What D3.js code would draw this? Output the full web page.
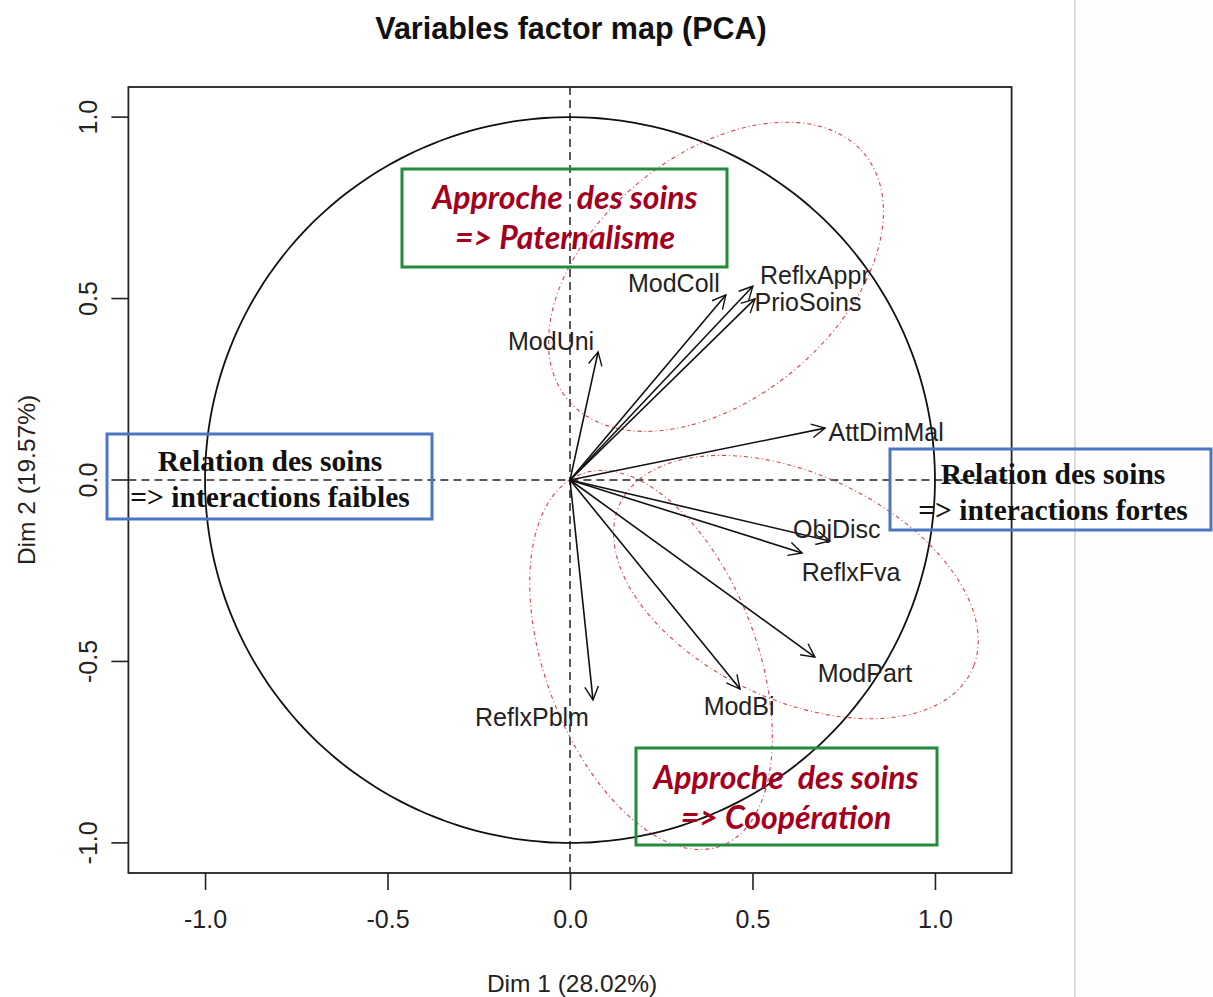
<!DOCTYPE html>
<html><head><meta charset="utf-8">
<script src="https://cdn.jsdelivr.net/npm/d3@7"></script>
<style>
html,body{margin:0;padding:0;background:#fff;}
svg{display:block;}
</style></head>
<body>
<svg id="chart" width="1213" height="997"></svg>
<script>
// ---- data ----
const variables = ["ModUni","ModColl","ReflxAppr","PrioSoins","AttDimMal","ObjDisc","ReflxFva","ModPart","ModBi","ReflxPblm"];
const dim1 = [0.077, 0.427, 0.501, 0.507, 0.699, 0.712, 0.636, 0.671, 0.466, 0.063];
const dim2 = [0.353, 0.510, 0.534, 0.499, 0.143, -0.168, -0.201, -0.488, -0.576, -0.606];
const xTicks = [-1.0, -0.5, 0.0, 0.5, 1.0];
const yTicks = [-1.0, -0.5, 0.0, 0.5, 1.0];
const title = "Variables factor map (PCA)";
const xTitle = "Dim 1 (28.02%)";
const yTitle = "Dim 2 (19.57%)";
// concentration ellipses: centre, semi-axes, rotation (deg)
const ellipseCx = [0.400, 0.222, 0.619];
const ellipseCy = [0.560, -0.496, -0.295];
const ellipseA = [0.529, 0.547, 0.534];
const ellipseB = [0.335, 0.290, 0.310];
const ellipseAngle = [40, -69.5, -25.7];
// annotation texts
const annotGreenTop = ["Approche  des soins", "=> Paternalisme"];
const annotGreenBottom = ["Approche  des soins", "=> Coopération"];
const annotBlueLeft = ["Relation des soins", "=> interactions faibles"];
const annotBlueRight = ["Relation des soins", "=> interactions fortes"];

// ---- layout ----
const labelOffsets = [[-47,-11],[-52,-12],[62,-11],[53,3],[61,4],[7,-12],[49,19],[50,16],[-1,17],[-61,17]];

const svg = d3.select("#chart");
const x = d3.scaleLinear().domain([-1.21, 1.21]).range([128.4, 1011.6]);
const y = d3.scaleLinear().domain([-1.083, 1.083]).range([873, 87]);
const fmt = d => d3.format(".1f")(d).replace("\u2212", "-");
const sans = "Liberation Sans, Arial, sans-serif";

// separator line on the right (screenshot edge)
svg.append("rect").attr("x",1076).attr("y",0).attr("width",137).attr("height",997).attr("fill","#fdfdfd");
svg.append("line").attr("x1",1075).attr("x2",1075).attr("y1",0).attr("y2",997)
  .attr("stroke","#dcdcdc").attr("stroke-width",2);

// title
svg.append("text").attr("x", 571).attr("y", 39).attr("text-anchor","middle")
  .attr("font-family",sans).attr("font-weight","bold")
  .attr("font-size",30.5).attr("fill","#111").text(title);

// plot box
svg.append("rect").attr("x", x(-1.21)).attr("y", y(1.083))
  .attr("width", x(1.21)-x(-1.21)).attr("height", y(-1.083)-y(1.083))
  .attr("fill","none").attr("stroke","#222").attr("stroke-width",1.8);

// axes
const xAxis = d3.axisBottom(x).tickValues(xTicks).tickFormat(fmt).tickSize(17).tickPadding(20);
const gx = svg.append("g").attr("transform",`translate(0,${y(-1.083)})`).call(xAxis);
gx.select(".domain").remove();
gx.selectAll("line").attr("stroke","#222").attr("stroke-width",1.6);
gx.selectAll("text").attr("font-family",sans).attr("font-size",25).attr("fill","#222");

const yAxis = d3.axisLeft(y).tickValues(yTicks).tickFormat(fmt).tickSize(17).tickPadding(0);
const gy = svg.append("g").attr("transform",`translate(${x(-1.21)},0)`).call(yAxis);
gy.select(".domain").remove();
gy.selectAll("line").attr("stroke","#222").attr("stroke-width",1.6);
gy.selectAll("text").attr("font-family",sans).attr("font-size",25).attr("fill","#222")
  .attr("text-anchor","middle").attr("x",0).attr("dy",0).attr("y",0)
  .attr("transform", d => `translate(-31,${y(d)}) rotate(-90)`);
gy.selectAll(".tick").attr("transform", null);
gy.selectAll(".tick line").attr("y1", d=>y(d)).attr("y2", d=>y(d));

svg.append("text").attr("x",572).attr("y",992).attr("text-anchor","middle")
  .attr("font-family",sans).attr("font-size",24.5).attr("fill","#222").text(xTitle);
svg.append("text").attr("transform",`translate(35,${y(0)}) rotate(-90)`).attr("text-anchor","middle")
  .attr("font-family",sans).attr("font-size",24.5).attr("fill","#222").text(yTitle);

// dashed reference lines
svg.append("line").attr("x1",x(0)).attr("x2",x(0)).attr("y1",y(1.083)).attr("y2",y(-1.083))
  .attr("stroke","#222").attr("stroke-width",1.5).attr("stroke-dasharray","8,5");
svg.append("line").attr("x1",x(-1.21)).attr("x2",x(1.21)).attr("y1",y(0)).attr("y2",y(0))
  .attr("stroke","#222").attr("stroke-width",1.5).attr("stroke-dasharray","8,5");

// correlation circle
const circ = d3.range(0, 360, 2).map(t => [Math.cos(t*Math.PI/180), Math.sin(t*Math.PI/180)]);
const line = d3.line().x(d=>x(d[0])).y(d=>y(d[1])).curve(d3.curveCardinalClosed);
svg.append("path").attr("d", line(circ)).attr("fill","none").attr("stroke","#111").attr("stroke-width",1.8);

// ellipses
ellipseCx.forEach((cx,i)=>{
  const th = ellipseAngle[i]*Math.PI/180;
  const pts = d3.range(0,360,3).map(t=>{
    const r = t*Math.PI/180;
    const ex = ellipseA[i]*Math.cos(r), ey = ellipseB[i]*Math.sin(r);
    return [cx + ex*Math.cos(th) - ey*Math.sin(th), ellipseCy[i] + ex*Math.sin(th) + ey*Math.cos(th)];
  });
  svg.append("path").attr("d", line(pts)).attr("fill","none").attr("stroke","#d8404a")
    .attr("stroke-width",1.1).attr("stroke-dasharray","4,3,1,3");
});

// arrows
const ah = 15, ang = 27*Math.PI/180;
variables.forEach((v,i)=>{
  const x0 = x(0), y0 = y(0), x1 = x(dim1[i]), y1 = y(dim2[i]);
  svg.append("line").attr("x1",x0).attr("y1",y0).attr("x2",x1).attr("y2",y1)
    .attr("stroke","#111").attr("stroke-width",1.6);
  const a = Math.atan2(y1-y0, x1-x0);
  const p1 = [x1 - ah*Math.cos(a-ang), y1 - ah*Math.sin(a-ang)];
  const p2 = [x1 - ah*Math.cos(a+ang), y1 - ah*Math.sin(a+ang)];
  svg.append("path").attr("d",`M${p1[0]},${p1[1]}L${x1},${y1}L${p2[0]},${p2[1]}`)
    .attr("fill","none").attr("stroke","#111").attr("stroke-width",1.4);
  svg.append("text").attr("x", x1+labelOffsets[i][0]).attr("y", y1+labelOffsets[i][1])
    .attr("dy","0.35em").attr("text-anchor","middle")
    .attr("font-family",sans).attr("font-size",25).attr("fill","#222").text(v);
});

// annotation boxes
function box(x0,y0,w,h,stroke,lines,cx,ys,font,size,color,style,weight){
  svg.append("rect").attr("x",x0).attr("y",y0).attr("width",w).attr("height",h)
    .attr("fill","none").attr("stroke",stroke).attr("stroke-width",3);
  lines.forEach((t,k)=>{
    svg.append("text").attr("x",cx).attr("y",ys[k]).attr("text-anchor","middle")
      .attr("font-family",font).attr("font-size",size).attr("font-style",style).attr("font-weight",weight)
      .attr("fill",color).style("white-space","pre").text(t);
  });
}
const calib = "Lato, 'Open Sans', sans-serif";
const times = "Liberation Serif, 'Times New Roman', serif";
box(402,169,325,98,"#238b3b",annotGreenTop,565,[209,249],calib,32,"#a3001e","italic","bold");
box(636,748,301,97,"#238b3b",annotGreenBottom,786,[789,829],calib,32,"#a3001e","italic","bold");
box(107,434,325,85,"#4a76c4",annotBlueLeft,270,[471,507],times,29.5,"#111","normal","bold");
box(890,449,321,81,"#4a76c4",annotBlueRight,1053,[484,520],times,29.5,"#111","normal","bold");
</script>
</body></html>
